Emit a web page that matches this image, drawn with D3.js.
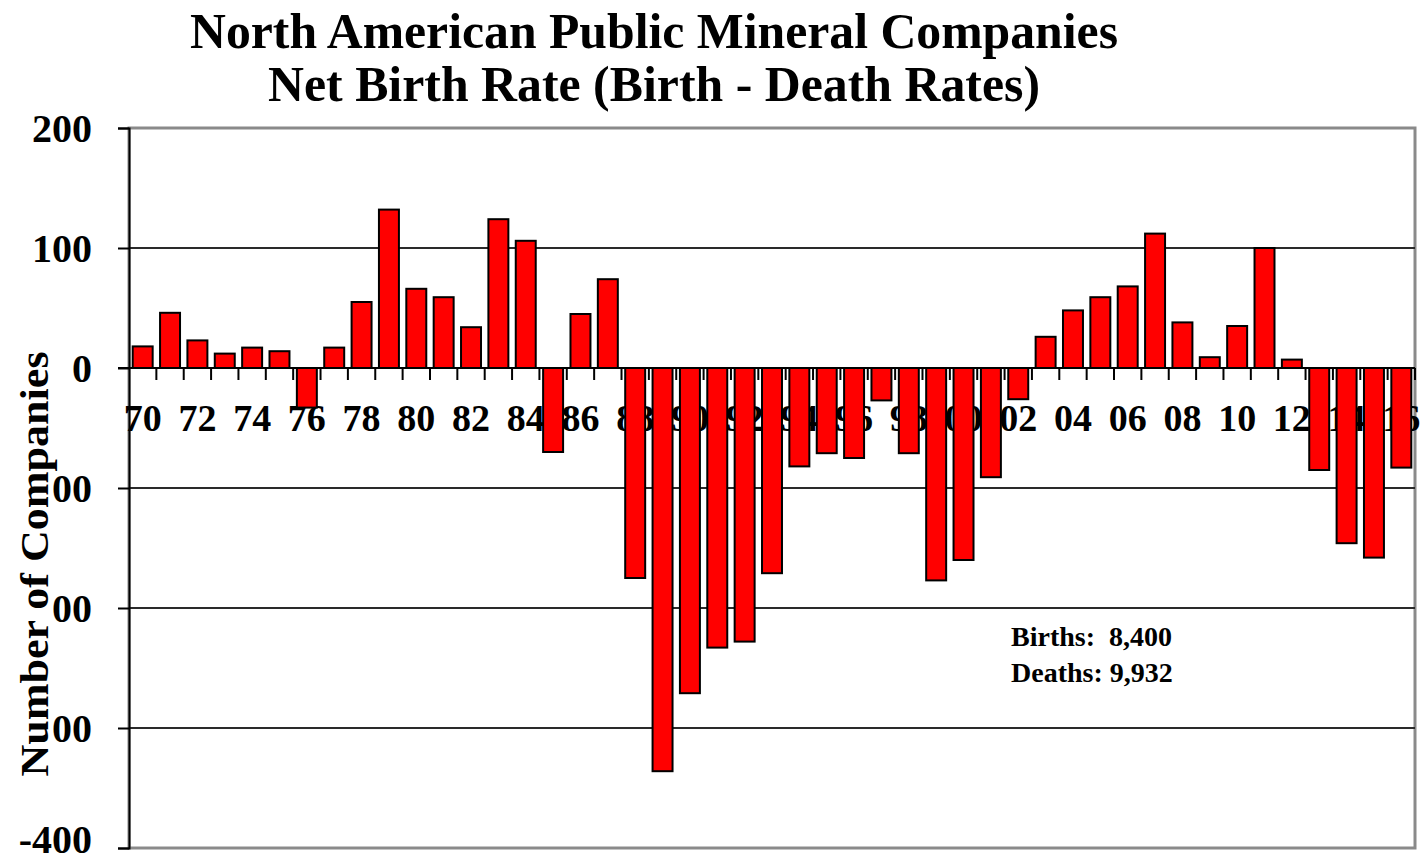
<!DOCTYPE html>
<html>
<head>
<meta charset="utf-8">
<script src="https://cdn.jsdelivr.net/npm/d3@7"></script>
<style>
  html, body { margin: 0; padding: 0; background: #fff; }
  svg { display: block; }
  text { font-family: "Liberation Serif", "Times New Roman", serif; font-weight: bold; fill: #000; }
</style>
</head>
<body>
<svg id="chart" width="1427" height="866"></svg>
<script>
// Net birth rate (births minus deaths) of North American public mineral companies, 1970–2016
const years = ["70","71","72","73","74","75","76","77","78","79",
               "80","81","82","83","84","85","86","87","88","89",
               "90","91","92","93","94","95","96","97","98","99",
               "00","01","02","03","04","05","06","07","08","09",
               "10","11","12","13","14","15","16"];
const netBirths = [18, 46, 23, 12, 17, 14, -33, 17, 55, 132,
                   66, 59, 34, 124, 106, -70, 45, 74, -175, -336,
                   -271, -233, -228, -171, -82, -71, -75, -27, -71, -177,
                   -160, -91, -26, 26, 48, 59, 68, 112, 38, 9,
                   35, 100, 7, -85, -146, -158, -83];
const yTicks = [200, 100, 0, -100, -200, -300, -400];
const gridValues = [100, -100, -200, -300];
const titleLines = ["North American Public Mineral Companies", "Net Birth Rate (Birth - Death Rates)"];
const yAxisTitle = "Number of Companies";
const totals = ["Births:  8,400", "Deaths: 9,932"];

const svg = d3.select("#chart");
const plot = { left: 129, right: 1415, top: 128, bottom: 848 };

const x = d3.scaleBand()
  .domain(years)
  .range([plot.left, plot.right])
  .paddingInner(0.27)
  .paddingOuter(0.135);

const y = d3.scaleLinear()
  .domain([-400, 200])
  .range([plot.bottom, plot.top]);

// Title
svg.selectAll("text.title")
  .data(titleLines)
  .join("text")
  .attr("class", "title")
  .attr("x", 654)
  .attr("y", (d, i) => 48 + i * 53)
  .attr("text-anchor", "middle")
  .attr("font-size", 51)
  .attr("textLength", (d, i) => i === 0 ? 928 : 772)
  .attr("lengthAdjust", "spacingAndGlyphs")
  .text(d => d);

// Plot frame (top, right, bottom)
svg.append("rect")
  .attr("x", plot.left)
  .attr("y", plot.top)
  .attr("width", plot.right - plot.left)
  .attr("height", plot.bottom - plot.top)
  .attr("fill", "none")
  .attr("stroke", "#8a8a8a")
  .attr("stroke-width", 3);

// Horizontal gridlines
svg.selectAll("line.grid")
  .data(gridValues)
  .join("line")
  .attr("class", "grid")
  .attr("x1", plot.left)
  .attr("x2", plot.right)
  .attr("y1", d => y(d))
  .attr("y2", d => y(d))
  .attr("stroke", "#2a2a2a")
  .attr("stroke-width", 2);

// Y axis
const yAxis = d3.axisLeft(y)
  .tickValues(yTicks)
  .tickSize(11)
  .tickPadding(26)
  .tickFormat(d => String(d));

const yg = svg.append("g")
  .attr("transform", `translate(${plot.left},0)`)
  .call(yAxis);
yg.select(".domain").attr("stroke", "#000").attr("stroke-width", 2);
yg.selectAll(".tick line").attr("stroke", "#000").attr("stroke-width", 2);
yg.selectAll(".tick text")
  .attr("font-size", 40)
  .attr("font-family", "Liberation Serif, serif")
  .attr("font-weight", "bold")
  .attr("fill", "#000")
  .attr("dy", d => d === -400 ? "0.1em" : "0.34em");

// Category labels every other year, centred under their bar (drawn beneath the bars)
const xg = svg.append("g");
xg.selectAll("text")
  .data(years.filter((d, i) => i % 2 === 0))
  .join("text")
  .attr("x", d => x(d) + x.bandwidth() / 2)
  .attr("y", y(0) + 63)
  .attr("text-anchor", "middle")
  .attr("font-size", 38)
  .text(d => d);

// Zero line and category boundary ticks
const step = x.step();
svg.append("line")
  .attr("x1", plot.left - 11)
  .attr("x2", plot.right)
  .attr("y1", y(0))
  .attr("y2", y(0))
  .attr("stroke", "#000")
  .attr("stroke-width", 2);
svg.selectAll("line.xtick")
  .data(d3.range(1, years.length + 1))
  .join("line")
  .attr("class", "xtick")
  .attr("x1", i => x(years[0]) - x.paddingOuter() * step + i * step)
  .attr("x2", i => x(years[0]) - x.paddingOuter() * step + i * step)
  .attr("y1", y(0))
  .attr("y2", y(0) + 12)
  .attr("stroke", "#000")
  .attr("stroke-width", 2);

// Bars
svg.selectAll("rect.bar")
  .data(years.map((yr, i) => ({ yr, v: netBirths[i] })))
  .join("rect")
  .attr("class", "bar")
  .attr("x", d => x(d.yr))
  .attr("width", x.bandwidth())
  .attr("y", d => y(Math.max(0, d.v)))
  .attr("height", d => Math.abs(y(d.v) - y(0)))
  .attr("fill", "#ff0000")
  .attr("stroke", "#000")
  .attr("stroke-width", 2);

// Axis title on a white panel
svg.append("rect")
  .attr("x", 0)
  .attr("y", 385)
  .attr("width", 53)
  .attr("height", 410)
  .attr("fill", "#fff");
svg.append("text")
  .attr("transform", "translate(48,564) rotate(-90)")
  .attr("text-anchor", "middle")
  .attr("font-size", 40)
  .attr("textLength", 425)
  .attr("lengthAdjust", "spacingAndGlyphs")
  .text(yAxisTitle);

// Totals note
svg.selectAll("text.note")
  .data(totals)
  .join("text")
  .attr("class", "note")
  .attr("x", 1011)
  .attr("y", (d, i) => 646 + i * 36)
  .attr("font-size", 28)
  .attr("fill", "#1a1a1a")
  .style("white-space", "pre")
  .text(d => d);
</script>
</body>
</html>
